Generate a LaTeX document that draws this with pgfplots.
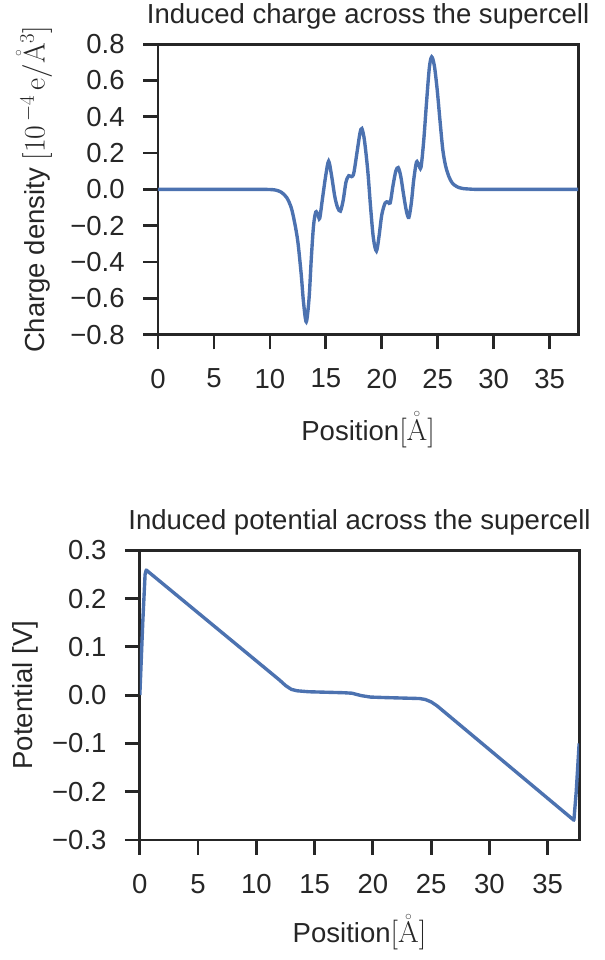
\RequirePackage{fix-cm}
\documentclass[border=0pt]{standalone}
\usepackage[no-math]{fontspec}
\setmainfont{Liberation Sans}
\usepackage{pgfplots}
\pgfplotsset{compat=1.18}
\definecolor{sbblue}{HTML}{4C72B0}
\definecolor{sbtext}{HTML}{262626}
\DeclareMathSizes{27.7}{30}{21}{16}

\pgfplotstableread{
x y
0 0
5 0
9 0
10 -0.001
10.5 -0.004
11 -0.015
11.5 -0.045
11.9 -0.10
12.2 -0.18
12.5 -0.29
12.8 -0.47
13.0 -0.62
13.25 -0.73
13.5 -0.60
13.7 -0.38
13.9 -0.20
14.1 -0.125
14.3 -0.14
14.45 -0.16
14.7 -0.05
15.0 0.08
15.25 0.155
15.5 0.08
15.8 -0.04
16.05 -0.10
16.3 -0.12
16.55 -0.06
16.8 0.04
17.05 0.075
17.3 0.07
17.5 0.09
17.8 0.21
18.05 0.31
18.22 0.335
18.45 0.27
18.75 0.10
19.0 -0.10
19.25 -0.27
19.52 -0.34
19.75 -0.26
20.0 -0.14
20.3 -0.075
20.55 -0.07
20.75 -0.075
21.0 0.02
21.25 0.10
21.47 0.12
21.7 0.07
21.95 -0.03
22.2 -0.12
22.42 -0.155
22.65 -0.07
22.85 0.05
23.1 0.15
23.3 0.135
23.5 0.12
23.75 0.27
24.0 0.48
24.25 0.67
24.46 0.73
24.7 0.68
24.95 0.55
25.2 0.38
25.45 0.22
25.7 0.13
26.0 0.07
26.3 0.035
26.7 0.015
27.2 0.005
28 0.001
29 0
37.6 0
}\chargetable

\pgfplotstableread{
x y
0 0
0.25 0.15
0.45 0.25
0.55 0.259
12.0 0.031
12.5 0.02
13.0 0.012
13.5 0.009
14.5 0.007
17.5 0.005
18.2 0.004
19.0 -0.001
19.8 -0.004
21 -0.005
24 -0.007
24.5 -0.009
25 -0.014
25.5 -0.022
37.25 -0.259
37.45 -0.2
37.7 -0.1
}\potentialtable

\begin{document}
\begin{tikzpicture}[color=sbtext]
\pgfplotsset{
  every axis/.append style={
    scale only axis,
    font=\fontsize{27.7}{33}\selectfont,
    axis line style={sbtext, line width=2.8pt},
    every tick/.style={sbtext, line width=2.8pt},
    major tick length=15pt,
    tick align=outside,
    xtick pos=left, ytick pos=left,
    xtick={0,5,10,15,20,25,30,35},
    xticklabels={0,5,10,15,20,25,30,35},
    xticklabel style={yshift=-16pt},
    yticklabel style={xshift=-15pt},
  },
}
\begin{axis}[
  at={(159pt,-330.7pt)}, anchor=south west,
  width=422.7pt, height=292.2pt,
  xmin=0, xmax=37.55, ymin=-0.8, ymax=0.8,
  ytick={-0.8,-0.6,-0.4,-0.2,0,0.2,0.4,0.6,0.8},
  yticklabels={−0.8,−0.6,−0.4,−0.2,0.0,0.2,0.4,0.6,0.8},
  title={Induced charge across the supercell},
  title style={at={(axis description cs:0.5,1.0513)}, anchor=base},
  xlabel={Position$[\mathring{\mathrm{A}}]$},
  xlabel style={at={(axis description cs:0.5,-0.3648)}, anchor=base},
  ylabel={Charge density $[10^{\,-4}\,\mathrm{e}/\mathring{\mathrm{A}}^{3}]$},
  ylabel style={at={(axis description cs:-0.2697,0.5)}, anchor=base, rotate=0},
]
\addplot[sbblue, line width=3.4pt, smooth, tension=0.5] table[x=x,y=y] {\chargetable};
\end{axis}

\begin{axis}[
  at={(140.7pt,-839.3pt)}, anchor=south west,
  width=442pt, height=291.6pt,
  xmin=0, xmax=37.7, ymin=-0.3, ymax=0.3,
  ytick={-0.3,-0.2,-0.1,0,0.1,0.2,0.3},
  yticklabels={−0.3,−0.2,−0.1,0.0,0.1,0.2,0.3},
  title={Induced potential across the supercell},
  title style={at={(axis description cs:0.5,1.0494)}, anchor=base},
  xlabel={Position$[\mathring{\mathrm{A}}]$},
  xlabel style={at={(axis description cs:0.5,-0.3546)}, anchor=base},
  ylabel={Potential [V]},
  ylabel style={at={(axis description cs:-0.2437,0.5)}, anchor=base, rotate=0},
]
\addplot[sbblue, line width=3.4pt, line join=round] table[x=x,y=y] {\potentialtable};
\end{axis}
\path[use as bounding box] (0pt,0pt) rectangle (608pt,-960pt);
\end{tikzpicture}
\end{document}
